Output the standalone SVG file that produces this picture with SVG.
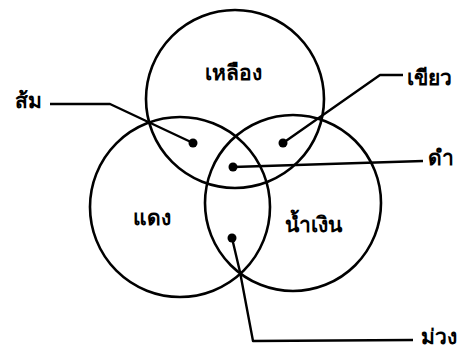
<svg xmlns="http://www.w3.org/2000/svg" width="471" height="350" viewBox="0 0 471 350">
<style>
.c{fill:none;stroke:#000;stroke-width:2.6}
.l{fill:none;stroke:#000;stroke-width:2.4;stroke-linejoin:round}
.d{fill:#000}
text{font-family:"Noto Sans","DejaVu Sans",sans-serif;font-weight:bold;font-size:21px;fill:#000}
</style>
<rect width="471" height="350" fill="#fff"/>
<g id="yellow"><circle class="c" cx="235" cy="99" r="89"/><text x="205" y="80">เหลือง</text></g>
<g id="red"><circle class="c" cx="180" cy="207" r="90"/><text x="133" y="225">แดง</text></g>
<g id="blue"><circle class="c" cx="293" cy="203" r="88"/><text x="285" y="232">น้ำเงิน</text></g>
<g id="connectors">
<polyline class="l" points="50,104 110,104 193,143"/>
<polyline class="l" points="403,75 380,75 283,143"/>
<polyline class="l" points="233,167 423,161"/>
<polyline class="l" points="232,238 240,272 253,341 413,340"/>
<circle class="d" cx="193" cy="143" r="4.5"/>
<circle class="d" cx="283" cy="143" r="4.5"/>
<circle class="d" cx="233" cy="167" r="4.5"/>
<circle class="d" cx="232" cy="238" r="4.5"/>
</g>
<g id="labels">
<g id="som"><text x="15" y="108">ส้ม</text></g>
<g id="khiao"><text x="407" y="85">เขียว</text></g>
<g id="dam"><text x="428" y="165">ดำ</text></g>
<g id="muang"><text x="421" y="344">ม่วง</text></g>
</g>
</svg>
